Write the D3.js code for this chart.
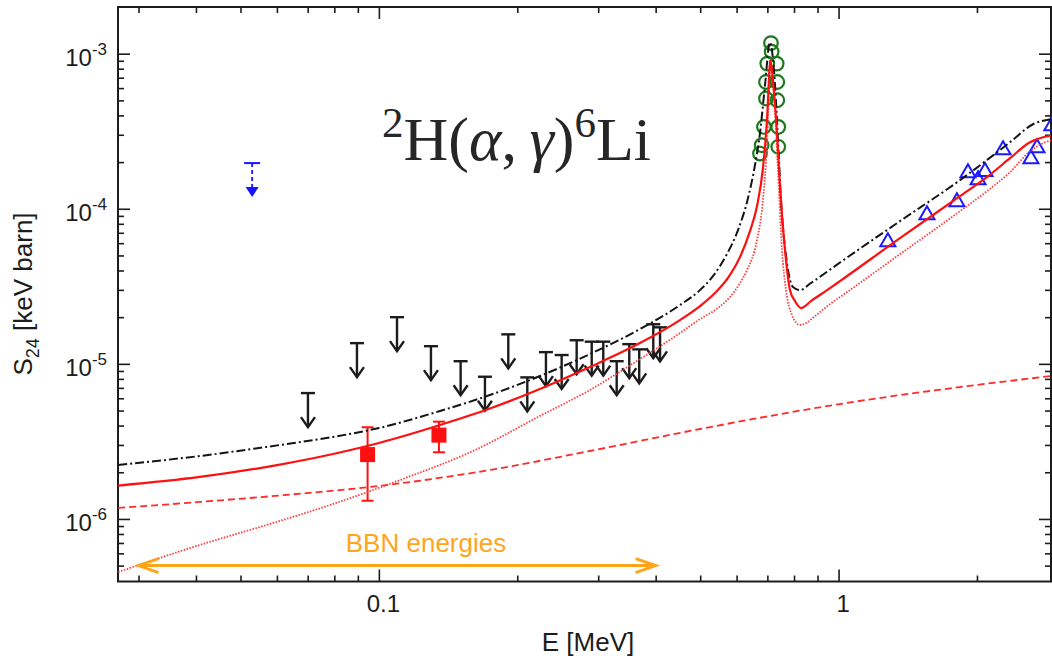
<!DOCTYPE html>
<html>
<head>
<meta charset="utf-8">
<script src="https://cdn.jsdelivr.net/npm/d3@7"></script>
<style>
  html, body { margin: 0; padding: 0; background: #fff; }
  svg { display: block; }
</style>
</head>
<body>
<svg id="chart" width="1052" height="656"></svg>
<script>
// ---------------- data ----------------
// axis ticks
const xMajorTicks = [0.1, 1];
const xMajorLabels = ["0.1", "1"];
const xMinorTicks = [0.03, 0.04, 0.05, 0.06, 0.07, 0.08, 0.09,
                     0.2, 0.3, 0.4, 0.5, 0.6, 0.7, 0.8, 0.9, 2];
const yMajorTicks = [1e-6, 1e-5, 1e-4, 1e-3];
const yMajorExponents = ["-6", "-5", "-4", "-3"];
const yMinorTicks = [5e-7, 6e-7, 7e-7, 8e-7, 9e-7,
                     2e-6, 3e-6, 4e-6, 5e-6, 6e-6, 7e-6, 8e-6, 9e-6,
                     2e-5, 3e-5, 4e-5, 5e-5, 6e-5, 7e-5, 8e-5, 9e-5,
                     2e-4, 3e-4, 4e-4, 5e-4, 6e-4, 7e-4, 8e-4, 9e-4];

// total S-factor (solid red), [E MeV, S keV b]
const totalCurve = [
  [0.0271, 1.641e-6], [0.0408, 1.865e-6], [0.0609, 2.242e-6], [0.0795, 2.623e-6],
  [0.1000, 3.088e-6], [0.1358, 4.033e-6], [0.1744, 5.152e-6], [0.2240, 6.880e-6],
  [0.2877, 9.537e-6], [0.3697, 1.361e-5], [0.4518, 1.915e-5], [0.4994, 2.357e-5],
  [0.5384, 2.859e-5], [0.5802, 3.734e-5], [0.6102, 4.876e-5], [0.6416, 7.174e-5],
  [0.6645, 1.039e-4], [0.6847, 1.827e-4], [0.6986, 3.723e-4], [0.7110, 9.07e-4],
  [0.7199, 6.74e-4], [0.7345, 3.07e-4], [0.7456, 1.42e-4], [0.7647, 5.41e-5],
  [0.7840, 2.99e-5], [0.8037, 2.54e-5], [0.8284, 2.29e-5], [0.8708, 2.54e-5],
  [0.9578, 3.079e-5], [1.007, 3.416e-5], [1.360, 6.465e-5], [1.837, 1.206e-4],
  [2.102, 1.598e-4], [2.360, 2.118e-4], [2.609, 2.686e-4], [2.784, 2.892e-4],
  [2.898, 2.958e-4]
];
// E2 component (dotted red)
const e2Curve = [
  [0.0271, 4.553e-7], [0.0408, 6.80e-7], [0.0609, 9.71e-7], [0.0795, 1.249e-6],
  [0.1112, 1.783e-6], [0.1602, 2.742e-6], [0.2240, 4.610e-6], [0.2877, 6.780e-6],
  [0.3697, 1.074e-5], [0.4518, 1.579e-5], [0.4994, 1.944e-5], [0.5384, 2.221e-5],
  [0.5802, 2.694e-5], [0.6102, 3.317e-5], [0.6320, 4.022e-5], [0.6645, 6.276e-5],
  [0.6847, 1.136e-4], [0.6986, 2.569e-4], [0.7110, 8.42e-4], [0.7235, 5.40e-4],
  [0.7382, 1.77e-4], [0.7532, 5.41e-5], [0.7685, 2.99e-5], [0.7918, 2.06e-5],
  [0.8240, 1.78e-5], [0.8492, 1.832e-5], [0.8885, 2.032e-5], [0.9578, 2.428e-5],
  [1.007, 2.694e-5], [1.360, 5.098e-5], [1.837, 9.65e-5], [2.102, 1.298e-4],
  [2.360, 1.721e-4], [2.609, 2.350e-4], [2.784, 2.646e-4], [2.898, 2.767e-4]
];
// E1 component (dashed red)
const e1Curve = [
  [0.0271, 1.177e-6], [0.0408, 1.287e-6], [0.0609, 1.417e-6], [0.1000, 1.632e-6],
  [0.1744, 2.068e-6], [0.2877, 2.742e-6], [0.4994, 3.801e-6], [1.007, 5.508e-6],
  [1.837, 7.087e-6], [2.898, 8.344e-6]
];
// alternative model (black dash-dot)
const altCurve = [
  [0.0271, 2.228e-6], [0.0408, 2.546e-6], [0.0609, 2.998e-6], [0.0795, 3.378e-6],
  [0.1000, 3.858e-6], [0.1358, 4.965e-6], [0.1744, 6.295e-6], [0.2240, 8.344e-6],
  [0.2877, 1.156e-5], [0.3697, 1.676e-5], [0.4518, 2.393e-5], [0.4994, 2.988e-5],
  [0.5330, 3.679e-5], [0.5716, 5.098e-5], [0.6042, 7.280e-5], [0.6352, 1.170e-4],
  [0.6578, 1.909e-4], [0.6746, 3.07e-4], [0.6917, 6.257e-4], [0.7091, 1.184e-3],
  [0.7235, 7.82e-4], [0.7382, 2.77e-4], [0.7494, 1.14e-4], [0.7723, 4.46e-5],
  [0.7958, 3.13e-5], [0.8240, 2.99e-5], [0.8708, 3.32e-5], [0.9578, 4.05e-5],
  [1.007, 4.50e-5], [1.360, 8.32e-5], [1.837, 1.53e-4], [2.102, 2.06e-4],
  [2.360, 2.686e-4], [2.648, 3.508e-4], [2.898, 3.779e-4]
];

// upper limits (black arrows), [E, S limit]
const upperLimits = [
  [0.0701, 6.48e-6], [0.0896, 1.36e-5], [0.1095, 2.00e-5], [0.1298, 1.30e-5],
  [0.1506, 1.04e-5], [0.1701, 8.26e-6], [0.1912, 1.55e-5], [0.2103, 8.18e-6],
  [0.2309, 1.19e-5], [0.2498, 1.14e-5], [0.2693, 1.42e-5], [0.2904, 1.39e-5],
  [0.3077, 1.39e-5], [0.3291, 1.04e-5], [0.3505, 1.34e-5], [0.3684, 1.24e-5],
  [0.3953, 1.80e-5], [0.4089, 1.72e-5]
];
// upper limit (blue dashed arrow)
const blueLimit = [[0.0530, 1.97e-4]];
// measured points with errors (red squares), [E, S, S low, S high]
const squarePoints = [
  [0.0945, 2.60e-6, 1.31e-6, 3.90e-6],
  [0.1351, 3.47e-6, 2.69e-6, 4.24e-6]
];
// resonance data (green circles)
const resonancePoints = [
  [0.7127, 1.17e-3], [0.7152, 1.03e-3], [0.6997, 8.63e-4], [0.7334, 8.63e-4],
  [0.6951, 6.57e-4], [0.7357, 6.57e-4], [0.6951, 5.14e-4], [0.7357, 5.01e-4],
  [0.6881, 3.37e-4], [0.7392, 3.37e-4], [0.6803, 2.57e-4], [0.7392, 2.51e-4],
  [0.6746, 2.27e-4]
];
// higher-energy data (blue triangles)
const trianglePoints = [
  [1.280, 6.18e-5], [1.557, 9.23e-5], [1.809, 1.12e-4], [1.912, 1.72e-4],
  [2.011, 1.55e-4], [2.082, 1.75e-4], [2.279, 2.42e-4], [2.621, 2.12e-4],
  [2.702, 2.49e-4], [2.910, 3.46e-4]
];
// BBN energy window
const bbnRange = [0.03, 0.4];
const bbnLevel = 5.0e-7;

// ---------------- drawing ----------------
(function draw() {
const svg = d3.select("#chart");
const pL = 118, pR = 1051, pT = 7, pB = 581.5;
const ink = "#1c1c1c";
const sans = "'Liberation Sans', Arial, Helvetica, sans-serif";

const x = d3.scaleLog().domain([0.02707, 2.898]).range([pL, pR]);
const y = d3.scaleLog().domain([3.95e-7, 2.0e-3]).range([pB, pT]);

svg.append("rect").attr("width", 1052).attr("height", 656).attr("fill", "#fff");

svg.append("defs").append("clipPath").attr("id", "plotClip")
  .append("rect").attr("x", pL).attr("y", pT)
  .attr("width", pR - pL).attr("height", pB - pT);

// tick marks on all four sides, pointing inward
function ticks(axisFn, scale, values, size, translate, fmt) {
  const gen = axisFn(scale).tickValues(values).tickSize(size)
    .tickFormat(fmt || (() => ""));
  const g = svg.append("g").attr("transform", translate).call(gen);
  g.select(".domain").remove();
  g.selectAll(".tick line").attr("stroke", ink).attr("stroke-width", 1.6);
  return g;
}
ticks(d3.axisBottom, x, xMinorTicks, -6, `translate(0,${pB})`);
ticks(d3.axisTop, x, xMinorTicks, -6, `translate(0,${pT})`);
ticks(d3.axisTop, x, xMajorTicks, -12, `translate(0,${pT})`);
ticks(d3.axisLeft, y, yMinorTicks, -6, `translate(${pL},0)`);
ticks(d3.axisRight, y, yMinorTicks, -6, `translate(${pR},0)`);
ticks(d3.axisRight, y, yMajorTicks, -12, `translate(${pR},0)`);
const yMajor = ticks(d3.axisLeft, y, yMajorTicks, -12, `translate(${pL},0)`);
yMajor.selectAll(".tick text").remove();

const xMajor = ticks(d3.axisBottom, x, xMajorTicks, -12, `translate(0,${pB})`,
  (d, i) => xMajorLabels[i]);
xMajor.selectAll(".tick text")
  .attr("y", 30.5).attr("dy", null).attr("dx", 4)
  .attr("fill", ink).attr("font-family", sans).attr("font-size", 24);

// y tick labels as powers of ten
yMajorTicks.forEach((v, i) => {
  const t = svg.append("text")
    .attr("x", 107).attr("y", y(v) + 12.5)
    .attr("text-anchor", "end").attr("fill", ink)
    .attr("font-family", sans).attr("font-size", 24);
  t.append("tspan").text("10");
  t.append("tspan").attr("font-size", 17).attr("dy", -11.5).text(yMajorExponents[i]);
});

// frame
svg.append("rect").attr("x", pL).attr("y", pT)
  .attr("width", pR - pL).attr("height", pB - pT)
  .attr("fill", "none").attr("stroke", ink).attr("stroke-width", 2);

// axis titles
svg.append("text").attr("x", 588).attr("y", 651).attr("text-anchor", "middle")
  .attr("fill", ink).attr("font-family", sans).attr("font-size", 26).text("E [MeV]");
const yt = svg.append("text").attr("transform", "translate(32,294) rotate(-90)")
  .attr("text-anchor", "middle").attr("fill", ink)
  .attr("font-family", sans).attr("font-size", 26);
yt.append("tspan").text("S");
yt.append("tspan").attr("font-size", 18).attr("dy", 7).text("24");
yt.append("tspan").attr("dy", -7).text(" [keV barn]");

// reaction label
const title = svg.append("text").attr("x", 382).attr("y", 160)
  .attr("fill", "#262626")
  .attr("font-family", "'Liberation Serif', 'Times New Roman', serif")
  .attr("font-size", 62);
title.append("tspan").attr("font-size", 43).attr("dy", -23).text("2");
title.append("tspan").attr("dy", 23).text("H(");
title.append("tspan").attr("font-style", "italic").text("α");
title.append("tspan").text(",\u2009");
title.append("tspan").attr("font-style", "italic").text("γ");
title.append("tspan").text(")");
title.append("tspan").attr("font-size", 43).attr("dy", -23).text("6");
title.append("tspan").attr("dy", 23).text("Li");

// ---- data markers ----
const marks = svg.append("g");

// black upper-limit arrows
const arrowLen = 34;
upperLimits.forEach(([E, S]) => {
  const px = x(E), py = y(S);
  const g = marks.append("g").attr("stroke", ink).attr("stroke-width", 2.4).attr("fill", "none");
  g.append("line").attr("x1", px - 7).attr("x2", px + 7).attr("y1", py).attr("y2", py);
  g.append("line").attr("x1", px).attr("x2", px).attr("y1", py).attr("y2", py + arrowLen);
  g.append("path").attr("stroke-linejoin", "miter")
    .attr("d", `M${px - 7},${py + arrowLen - 10}L${px},${py + arrowLen}L${px + 7},${py + arrowLen - 10}`);
});

// blue upper limit
blueLimit.forEach(([E, S]) => {
  const px = x(E), py = y(S);
  const blue = "#1414ff";
  marks.append("line").attr("x1", px - 8).attr("x2", px + 8).attr("y1", py).attr("y2", py)
    .attr("stroke", blue).attr("stroke-width", 2);
  marks.append("line").attr("x1", px).attr("x2", px).attr("y1", py).attr("y2", py + arrowLen - 8)
    .attr("stroke", blue).attr("stroke-width", 1.8).attr("stroke-dasharray", "4,3");
  marks.append("path").attr("fill", blue)
    .attr("d", `M${px - 6.5},${py + arrowLen - 10}L${px},${py + arrowLen}L${px + 6.5},${py + arrowLen - 10}Z`);
});

// red squares with error bars
squarePoints.forEach(([E, S, lo, hi]) => {
  const px = x(E);
  const g = marks.append("g").attr("stroke", "#ff1010").attr("stroke-width", 2);
  g.append("line").attr("x1", px).attr("x2", px).attr("y1", y(hi)).attr("y2", y(lo));
  g.append("line").attr("x1", px - 6).attr("x2", px + 6).attr("y1", y(hi)).attr("y2", y(hi));
  g.append("line").attr("x1", px - 6).attr("x2", px + 6).attr("y1", y(lo)).attr("y2", y(lo));
  marks.append("rect").attr("x", px - 7.5).attr("y", y(S) - 7.5)
    .attr("width", 15).attr("height", 15).attr("fill", "#ff1010");
});

// green circles
marks.selectAll("circle.res").data(resonancePoints).join("circle")
  .attr("class", "res")
  .attr("cx", d => x(d[0])).attr("cy", d => y(d[1])).attr("r", 6.8)
  .attr("fill", "none").attr("stroke", "#1e7a1e").attr("stroke-width", 2.2);

// blue triangles
marks.selectAll("path.tri").data(trianglePoints).join("path")
  .attr("class", "tri")
  .attr("d", d => {
    const px = x(d[0]), py = y(d[1]);
    return `M${px - 7.5},${py + 5}L${px},${py - 8}L${px + 7.5},${py + 5}Z`;
  })
  .attr("fill", "none").attr("stroke", "#1a1aff").attr("stroke-width", 2)
  .attr("stroke-linejoin", "miter");

// ---- model curves ----
const line = d3.line().x(d => x(d[0])).y(d => y(d[1])).curve(d3.curveMonotoneX);
const curves = svg.append("g").attr("clip-path", "url(#plotClip)").attr("fill", "none");

curves.append("path").attr("d", line(e1Curve))
  .attr("stroke", "#ff2a2a").attr("stroke-width", 1.8).attr("stroke-dasharray", "7,4");
curves.append("path").attr("d", line(e2Curve))
  .attr("stroke", "#ff3a3a").attr("stroke-width", 1.8).attr("stroke-dasharray", "1.5,1.5");
curves.append("path").attr("d", line(altCurve))
  .attr("stroke", "#141414").attr("stroke-width", 2).attr("stroke-dasharray", "9,3,2,3");
curves.append("path").attr("d", line(totalCurve))
  .attr("stroke", "#ff1010").attr("stroke-width", 2.2);

// ---- BBN window ----
const orange = "#ffa51c";
const bx0 = x(bbnRange[0]), bx1 = x(bbnRange[1]), by = y(bbnLevel);
const bbn = svg.append("g").attr("stroke", orange).attr("stroke-width", 3)
  .attr("fill", "none").attr("stroke-linejoin", "miter");
bbn.append("line").attr("x1", bx0 + 1).attr("x2", bx1 - 1).attr("y1", by).attr("y2", by);
bbn.append("path").attr("d", `M${bx0 + 20},${by - 7}L${bx0},${by}L${bx0 + 20},${by + 7}`);
bbn.append("path").attr("d", `M${bx1 - 20},${by - 7}L${bx1},${by}L${bx1 - 20},${by + 7}`);
svg.append("text").attr("x", 426).attr("y", 552).attr("text-anchor", "middle")
  .attr("fill", orange).attr("font-family", sans).attr("font-size", 26)
  .text("BBN energies");
})();
</script>
</body>
</html>
